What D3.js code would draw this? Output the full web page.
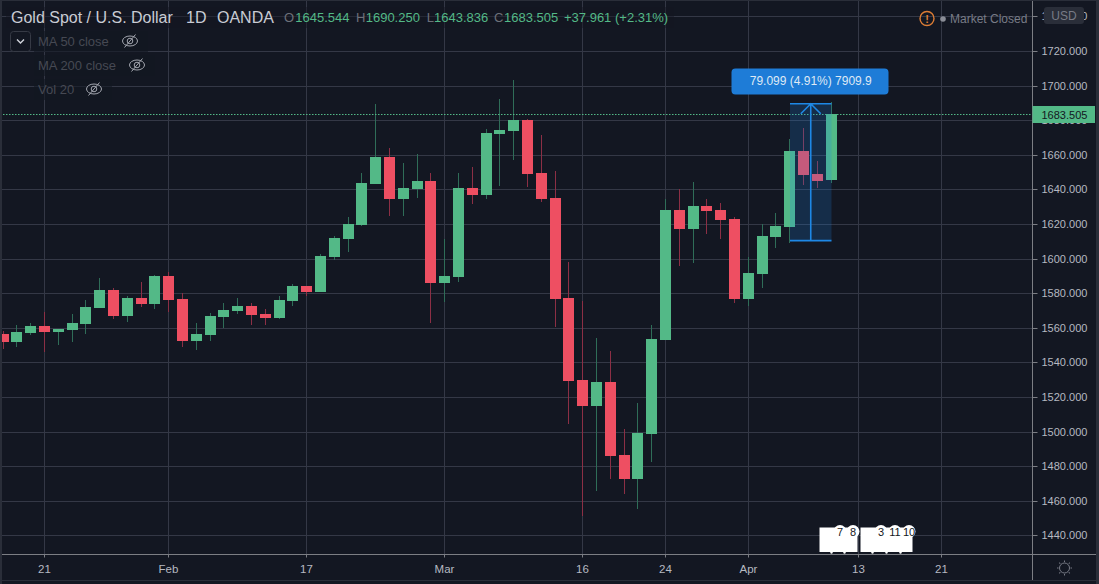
<!DOCTYPE html>
<html>
<head>
<meta charset="utf-8">
<style>
html,body{margin:0;padding:0;background:#131722;overflow:hidden}
svg{display:block}
text{font-family:"Liberation Sans",Arial,sans-serif}
</style>
<script src="https://cdn.jsdelivr.net/npm/d3@7/dist/d3.min.js"></script>
</head>
<body>
<svg id="chart" width="1099" height="584"></svg>
<script>
// trading days, the ones after 04-09 have no candle yet
var days = ["01-16","01-17","01-20","01-21","01-22","01-23","01-24","01-27","01-28","01-29","01-30","01-31",
  "02-03","02-04","02-05","02-06","02-07","02-10","02-11","02-12","02-13","02-14","02-17","02-18","02-19","02-20","02-21",
  "02-24","02-25","02-26","02-27","02-28","03-02","03-03","03-04","03-05","03-06","03-09","03-10","03-11","03-12","03-13",
  "03-16","03-17","03-18","03-19","03-20","03-23","03-24","03-25","03-26","03-27","03-30","03-31","04-01","04-02","04-03",
  "04-06","04-07","04-08","04-09","04-10","04-13","04-14","04-15","04-16","04-17","04-20","04-21"];

var opens = [1556.4,1551.8,1557.0,1561.1,1557.6,1558.7,1562.2,1571.5,1581.9,1566.8,1577.2,1573.8,1590.0,1576.7,1552.4,1555.8,1566.2,1569.7,1572.6,1568.0,1565.7,1575.5,1584.2,1580.7,
  1600.9,1611.3,1619.4,1643.1,1658.7,1634.4,1640.2,1644.8,1585.9,1589.3,1640.8,1636.7,1672.0,1673.7,1680.0,1649.4,1635.0,1577.2,1529.8,1514.8,1528.7,1486.5,1472.6,1498.6,1552.9,
  1628.1,1617.1,1630.4,1628.1,1622.9,1576.6,1591.1,1612.5,1618.3,1662.2,1648.9,1645.544];
var highs = [1558.2,1561.6,1562.6,1569.3,1559.3,1568.0,1576.1,1588.8,1583.0,1578.4,1586.5,1590.5,1592.3,1579.9,1562.8,1568.6,1574.3,1577.2,1574.3,1570.9,1578.4,1585.3,1584.2,1602.6,
  1613.0,1624.0,1649.4,1689.3,1663.9,1655.2,1660.4,1649.4,1611.3,1649.4,1652.9,1674.9,1692.2,1703.2,1680.7,1671.4,1650.6,1598.0,1575.5,1554.1,1546.6,1501.5,1516.5,1561.6,1634.4,
  1640.2,1644.3,1634.4,1632.1,1624.0,1600.9,1620.0,1626.3,1669.2,1675.5,1656.4,1690.25];
var lows = [1547.8,1548.9,1555.8,1546.0,1550.1,1551.8,1556.4,1571.5,1565.1,1563.4,1572.0,1570.9,1569.1,1548.9,1547.2,1552.4,1559.9,1568.0,1561.6,1561.6,1565.1,1572.6,1578.4,1580.7,
  1599.2,1603.8,1618.8,1643.1,1624.6,1624.6,1635.0,1562.7,1574.9,1586.4,1631.5,1634.4,1641.9,1657.0,1641.3,1632.7,1560.4,1504.4,1451.2,1465.6,1472.6,1463.9,1455.2,1482.4,1552.9,
  1595.7,1597.4,1614.2,1611.3,1574.3,1572.6,1583.0,1606.1,1609.2,1642.6,1640.8,1643.836];
var closes = [1551.8,1557.6,1561.1,1557.6,1559.3,1562.8,1572.0,1581.9,1566.8,1577.2,1573.8,1590.0,1576.0,1552.4,1556.4,1566.8,1570.3,1572.6,1567.4,1565.7,1576.1,1584.2,1580.7,1601.5,
  1611.9,1620.0,1643.7,1658.7,1634.4,1640.8,1644.8,1585.9,1589.9,1640.8,1636.7,1672.6,1674.3,1680.0,1648.9,1634.4,1576.6,1529.2,1514.8,1528.7,1485.9,1472.6,1499.2,1553.5,1628.1,
  1617.1,1630.4,1627.5,1622.3,1576.6,1591.7,1613.0,1618.8,1662.2,1648.3,1644.9,1683.505];

var priceTicks = [1740,1720,1700,1680,1660,1640,1620,1600,1580,1560,1540,1520,1500,1480,1460,1440];
var dayTicks = ["01-21","02-03","02-17","03-02","03-16","03-24","04-01","04-13","04-21"];
var dayTickLabels = ["21","Feb","17","Mar","16","24","Apr","13","21"];

var lastPrice = 1683.505;
var measureDays = ["04-06","04-09"];
var measurePrices = [1610.4,1689.5];
var measureLabel = "79.099 (4.91%) 7909.9";

var eventDays = ["04-09","04-10","04-14","04-15","04-16"];
var eventCounts = [7,8,3,11,10];
var eventGroups = [["04-09","04-10"],["04-14","04-16"]];

var ohlcLabels = [["O",284,"1645.544",295.3],["H",356,"1690.250",365.7],["L",426.7,"1643.836",434],["C",494,"1683.505",504]];
var legendNames = ["MA 50 close","MA 200 close","Vol 20"];

var W = 1099, H = 584, plotR = 1032.5, plotB = 554.5;
var GREEN = "#53b987", RED = "#ee4f62", GRID = "#343846", AXIS = "#7c7e84", TXT = "#b6b9c1";

var x = d3.scalePoint().domain(days).range([3.1, 941.5]);
var y = d3.scaleLinear().domain([1440,1720]).range([535.4,51]);
function px(d){ return Math.floor(x(d)) + 0.5; }
function py(v){ return Math.round(y(v)); }

var svg = d3.select("#chart");

// grid
var grid = svg.append("g");
grid.selectAll(".h").data(priceTicks).enter().append("line")
  .attr("x1",0).attr("x2",plotR)
  .attr("y1",function(d){return py(d)+0.5;}).attr("y2",function(d){return py(d)+0.5;})
  .attr("stroke",GRID);
grid.selectAll(".v").data(dayTicks).enter().append("line")
  .attr("x1",px).attr("x2",px).attr("y1",0).attr("y2",plotB)
  .attr("stroke",GRID);

// candles
var candles = svg.append("g").selectAll("g").data(opens).enter().append("g");
candles.append("line")
  .attr("x1",function(d,i){return px(days[i]);})
  .attr("x2",function(d,i){return px(days[i]);})
  .attr("y1",function(d,i){return py(highs[i]);})
  .attr("y2",function(d,i){return py(lows[i]);})
  .attr("stroke",function(d,i){return closes[i]>=opens[i] ? "#2f6d58" : "#8c2f45";});
candles.append("rect")
  .attr("x",function(d,i){return px(days[i])-5.5;})
  .attr("width",11)
  .attr("y",function(d,i){return py(Math.max(opens[i],closes[i]));})
  .attr("height",function(d,i){return Math.max(1,py(Math.min(opens[i],closes[i]))-py(Math.max(opens[i],closes[i])));})
  .attr("fill",function(d,i){return closes[i]>=opens[i] ? GREEN : RED;});

// last price line
svg.append("line").attr("x1",0).attr("x2",plotR)
  .attr("y1",py(lastPrice)+0.5).attr("y2",py(lastPrice)+0.5)
  .attr("stroke",GREEN).attr("stroke-dasharray","1.5 1.5");

// long position measure tool
var mx0 = px(measureDays[0])+0.5, mx1 = px(measureDays[1]),
    my0 = y(measurePrices[1]), my1 = y(measurePrices[0]), mxc = (mx0+mx1)/2;
var tool = svg.append("g");
tool.append("rect").attr("x",mx0).attr("y",my0).attr("width",mx1-mx0).attr("height",my1-my0)
  .attr("fill","#1e88e5").attr("fill-opacity",0.2);
tool.append("path")
  .attr("d","M"+mx0+","+my0+"H"+mx1+"M"+mx0+","+my1+"H"+mx1+"M"+mxc+","+my1+"V"+my0+
            "M"+(mxc-10)+","+(my0+10)+"L"+mxc+","+my0+"L"+(mxc+10)+","+(my0+10))
  .attr("fill","none").attr("stroke","#1e88e5").attr("stroke-width",1.6);
tool.append("rect").attr("x",731.5).attr("y",68.5).attr("width",157).attr("height",26).attr("rx",4)
  .attr("fill","#1e7cd7");
tool.append("text").attr("x",mxc).attr("y",84.5).attr("text-anchor","middle")
  .attr("font-size",12).attr("fill","#dfe9f5").text(measureLabel);

// event flags
var flags = svg.append("g");
flags.selectAll("rect").data(eventGroups).enter().append("rect")
  .attr("x",function(d){return px(d[0])-12;})
  .attr("width",function(d){return px(d[1])-px(d[0])+24+(d[0]=="04-09"?1:0);})
  .attr("y",527.5).attr("height",24.5).attr("fill","#fff");
flags.selectAll("circle.n").data(eventDays).enter().append("circle").attr("class","n")
  .attr("cx",function(d){return px(d)+8.5;}).attr("cy",531.5).attr("r",6.5).attr("fill","#fff");
flags.selectAll("circle.d").data(eventDays).enter().append("circle").attr("class","d")
  .attr("cx",px).attr("cy",552.5).attr("r",1.2).attr("fill","#fff");
flags.selectAll("text").data(eventCounts).enter().append("text")
  .attr("x",function(d,i){return px(eventDays[i])+8.5;}).attr("y",535.5)
  .attr("text-anchor","middle").attr("font-size",11).attr("fill","#131722")
  .text(function(d){return d;});

// mask under the axes
svg.append("rect").attr("x",plotR).attr("y",0).attr("width",W-plotR).attr("height",H).attr("fill","#131722");
svg.append("rect").attr("x",0).attr("y",plotB).attr("width",plotR).attr("height",H-plotB).attr("fill","#131722");

// price axis
var yAxis = d3.axisRight(y).tickValues(priceTicks).tickFormat(d3.format(".3f")).tickSize(5).tickPadding(4);
var gy = svg.append("g").attr("transform","translate("+plotR+",0)").call(yAxis);
gy.select(".domain").remove();
gy.selectAll(".tick").attr("transform",function(d){return "translate(0,"+(py(d)+0.5)+")";});
gy.selectAll(".tick line").attr("stroke",AXIS);
gy.selectAll(".tick text").attr("fill",TXT).attr("font-size",11).attr("font-family",'"Liberation Sans",Arial,sans-serif');

// time axis
var xAxis = d3.axisBottom(x).tickValues(dayTicks)
  .tickFormat(function(d){return dayTickLabels[dayTicks.indexOf(d)];}).tickSize(3).tickPadding(7);
var gx = svg.append("g").attr("transform","translate(0,"+plotB+")").call(xAxis);
gx.select(".domain").remove();
gx.selectAll(".tick").attr("transform",function(d){return "translate("+px(d)+",0)";});
gx.selectAll(".tick line").attr("stroke",AXIS);
gx.selectAll(".tick text").attr("fill",TXT).attr("font-size",11.5).attr("font-family",'"Liberation Sans",Arial,sans-serif');

svg.append("line").attr("x1",0).attr("x2",plotR).attr("y1",plotB).attr("y2",plotB).attr("stroke",AXIS);
svg.append("line").attr("x1",plotR).attr("x2",plotR).attr("y1",0).attr("y2",580).attr("stroke",AXIS);
svg.append("line").attr("x1",plotR).attr("x2",1096).attr("y1",plotB).attr("y2",plotB).attr("stroke",AXIS);

// last price tag
svg.append("rect").attr("x",plotR).attr("y",py(lastPrice)-8).attr("width",62.5).attr("height",17).attr("fill",GREEN);
svg.append("text").attr("x",1041.5).attr("y",py(lastPrice)+4.5).attr("font-size",11).attr("fill","#131722").text(d3.format(".3f")(lastPrice));

// header
var head = svg.append("g");
head.append("rect").attr("x",6).attr("y",7).attr("width",668).attr("height",21).attr("fill","#131722").attr("fill-opacity",0.45);
head.append("text").attr("x",11).attr("y",22.5).attr("font-size",16).attr("fill","#c9ccd4").text("Gold Spot / U.S. Dollar");
head.append("text").attr("x",186).attr("y",22.5).attr("font-size",16).attr("fill","#c9ccd4").text("1D");
head.append("text").attr("x",217).attr("y",22.5).attr("font-size",16).attr("fill","#c9ccd4").text("OANDA");
ohlcLabels.forEach(function(o){
  head.append("text").attr("x",o[1]).attr("y",22).attr("font-size",13).attr("fill","#6d7079").text(o[0]);
  head.append("text").attr("x",o[3]).attr("y",22).attr("font-size",13).attr("fill",GREEN).text(o[2]);
});
head.append("text").attr("x",564).attr("y",22).attr("font-size",13).attr("fill",GREEN).text("+37.961");
head.append("text").attr("x",615).attr("y",22).attr("font-size",13).attr("fill",GREEN).text("(+2.31%)");

// legend
var legend = svg.append("g");
legend.append("rect").attr("x",10.5).attr("y",31.5).attr("width",20).attr("height",20).attr("rx",3)
  .attr("fill","#131722").attr("stroke","#363a45");
legend.append("path").attr("d","M17,39.5l3.5,3.5l3.5,-3.5").attr("fill","none").attr("stroke","#d1d4dc").attr("stroke-width",1.4);
var legendEyes = [130,137,94];
legendNames.forEach(function(name,i){
  var ly = 41 + i*24;
  legend.append("rect").attr("x",34).attr("y",ly-10).attr("width",legendEyes[i]-16).attr("height",21)
    .attr("fill","#131722").attr("fill-opacity",0.6);
  legend.append("text").attr("x",38).attr("y",ly+4.5).attr("font-size",13).attr("fill","#464953").text(name);
  var eye = legend.append("g").attr("transform","translate("+legendEyes[i]+","+ly+")")
    .attr("fill","none").attr("stroke","#a3a6af").attr("stroke-width",1);
  eye.append("ellipse").attr("rx",7.5).attr("ry",5);
  eye.append("circle").attr("r",2.8);
  eye.append("line").attr("x1",-5.5).attr("y1",6.5).attr("x2",5.5).attr("y2",-6.5);
});

// market status
svg.append("circle").attr("cx",927).attr("cy",18.5).attr("r",7).attr("fill","none").attr("stroke","#dd7d35").attr("stroke-width",1.4);
svg.append("text").attr("x",927).attr("y",23).attr("text-anchor","middle").attr("font-size",11).attr("font-weight","bold").attr("fill","#dd7d35").text("!");
svg.append("circle").attr("cx",943).attr("cy",19).attr("r",2.8).attr("fill","#8a8d96");
svg.append("text").attr("x",950).attr("y",23).attr("font-size",12).attr("fill","#787b86").text("Market Closed");

// currency badge
svg.append("rect").attr("x",1044).attr("y",7).attr("width",40).attr("height",17).attr("rx",3).attr("fill","#2a2e39");
svg.append("text").attr("x",1064).attr("y",19.5).attr("text-anchor","middle").attr("font-size",12).attr("fill","#787b86").text("USD");

// settings icon
var sun = svg.append("g").attr("transform","translate(1064.5,568)").attr("fill","none").attr("stroke","#787b86");
sun.append("circle").attr("r",5);
sun.selectAll("line").data(d3.range(8)).enter().append("line")
  .attr("x1",0).attr("x2",0).attr("y1",6).attr("y2",7.5)
  .attr("transform",function(d){return "rotate("+(d*45)+")";});

// chart frame
svg.append("rect").attr("x",0).attr("y",0).attr("width",2).attr("height",H).attr("fill","#2a2e39");
svg.append("rect").attr("x",0).attr("y",0).attr("width",W).attr("height",1).attr("fill","#2a2e39");
svg.append("rect").attr("x",0).attr("y",580).attr("width",W).attr("height",1).attr("fill","#2a2e39");
svg.append("rect").attr("x",1096).attr("y",0).attr("width",3).attr("height",H).attr("fill","#2a2e39");
</script>
</body>
</html>
